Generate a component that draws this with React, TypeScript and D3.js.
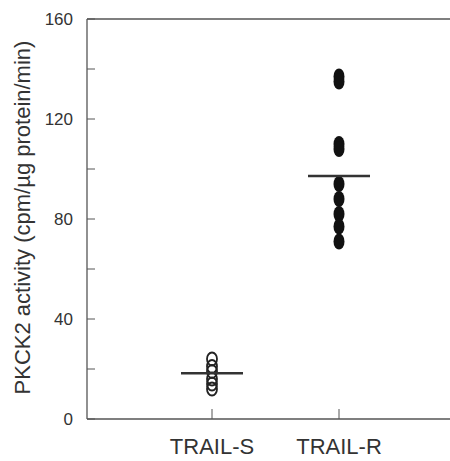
import React from 'react';
import * as d3 from 'd3';

const groups = ['TRAIL-S', 'TRAIL-R'];
const trailS = [24, 21, 19, 16, 14, 12];
const trailR = [137, 135, 110, 108, 94, 88, 82, 77, 71];
const means = [18.3, 97.2];
const yTicks = [0, 40, 80, 120, 160];
const yMinor = [20, 60, 100, 140];

const W = 450;
const H = 461;

const App = () => {
  const left = 87;
  const top = 19;
  const bottom = 419;

  const y = d3.scaleLinear().domain([0, 160]).range([bottom, top]);
  const x = d3.scalePoint<string>().domain(groups).range([212, 339]);

  const font = 'Liberation Sans, Arial, Helvetica, sans-serif';
  const axisColor = '#555';
  const textColor = '#333';

  return (
    <svg width={W} height={H} style={{ position: 'absolute', left: 0, top: 0, background: '#fff' }}>
      {/* frame: left axis, top and bottom lines */}
      <line x1={left} x2={left} y1={y(160)} y2={y(0)} stroke={axisColor} strokeWidth={1.3} />
      <line x1={left} x2={W} y1={y(160)} y2={y(160)} stroke={axisColor} strokeWidth={1.3} />
      <line x1={left} x2={W} y1={y(0)} y2={y(0)} stroke={axisColor} strokeWidth={1.3} />

      {yTicks.concat(yMinor).map(t => (
        <line key={'t' + t} x1={left} x2={left + 8} y1={y(t)} y2={y(t)} stroke={axisColor} strokeWidth={1} />
      ))}
      {yTicks.map(t => (
        <text key={'l' + t} x={left - 14} y={y(t)} dy="0.35em" textAnchor="end"
          fontFamily={font} fontSize={17} fill={textColor}>{t}</text>
      ))}

      {groups.map(g => (
        <g key={g}>
          <line x1={x(g)} x2={x(g)} y1={y(0) - 10} y2={y(0)} stroke={axisColor} strokeWidth={1} />
          <text x={x(g)} y={454} textAnchor="middle" fontFamily={font} fontSize={22} fill={textColor}>{g}</text>
        </g>
      ))}

      <text transform={`translate(30,${(38 + 397) / 2}) rotate(-90)`} textAnchor="middle"
        fontFamily={font} fontSize={22} fill={textColor}>
        PKCK2 activity (cpm/µg protein/min)
      </text>

      {/* TRAIL-S: open circles */}
      {trailS.map((v, i) => (
        <ellipse key={'s' + i} cx={x('TRAIL-S')} cy={y(v)} rx={5} ry={6.5}
          fill="none" stroke="#222" strokeWidth={1.8} />
      ))}

      {/* TRAIL-R: filled dots */}
      {trailR.map((v, i) => (
        <ellipse key={'r' + i} cx={x('TRAIL-R')} cy={y(v)} rx={5.5} ry={8} fill="#111" />
      ))}

      {/* mean lines */}
      {groups.map((g, i) => (
        <line key={'m' + g} x1={(x(g) as number) - 31} x2={(x(g) as number) + 31}
          y1={y(means[i])} y2={y(means[i])} stroke="#333" strokeWidth={2.5} />
      ))}
    </svg>
  );
};

export default App;
